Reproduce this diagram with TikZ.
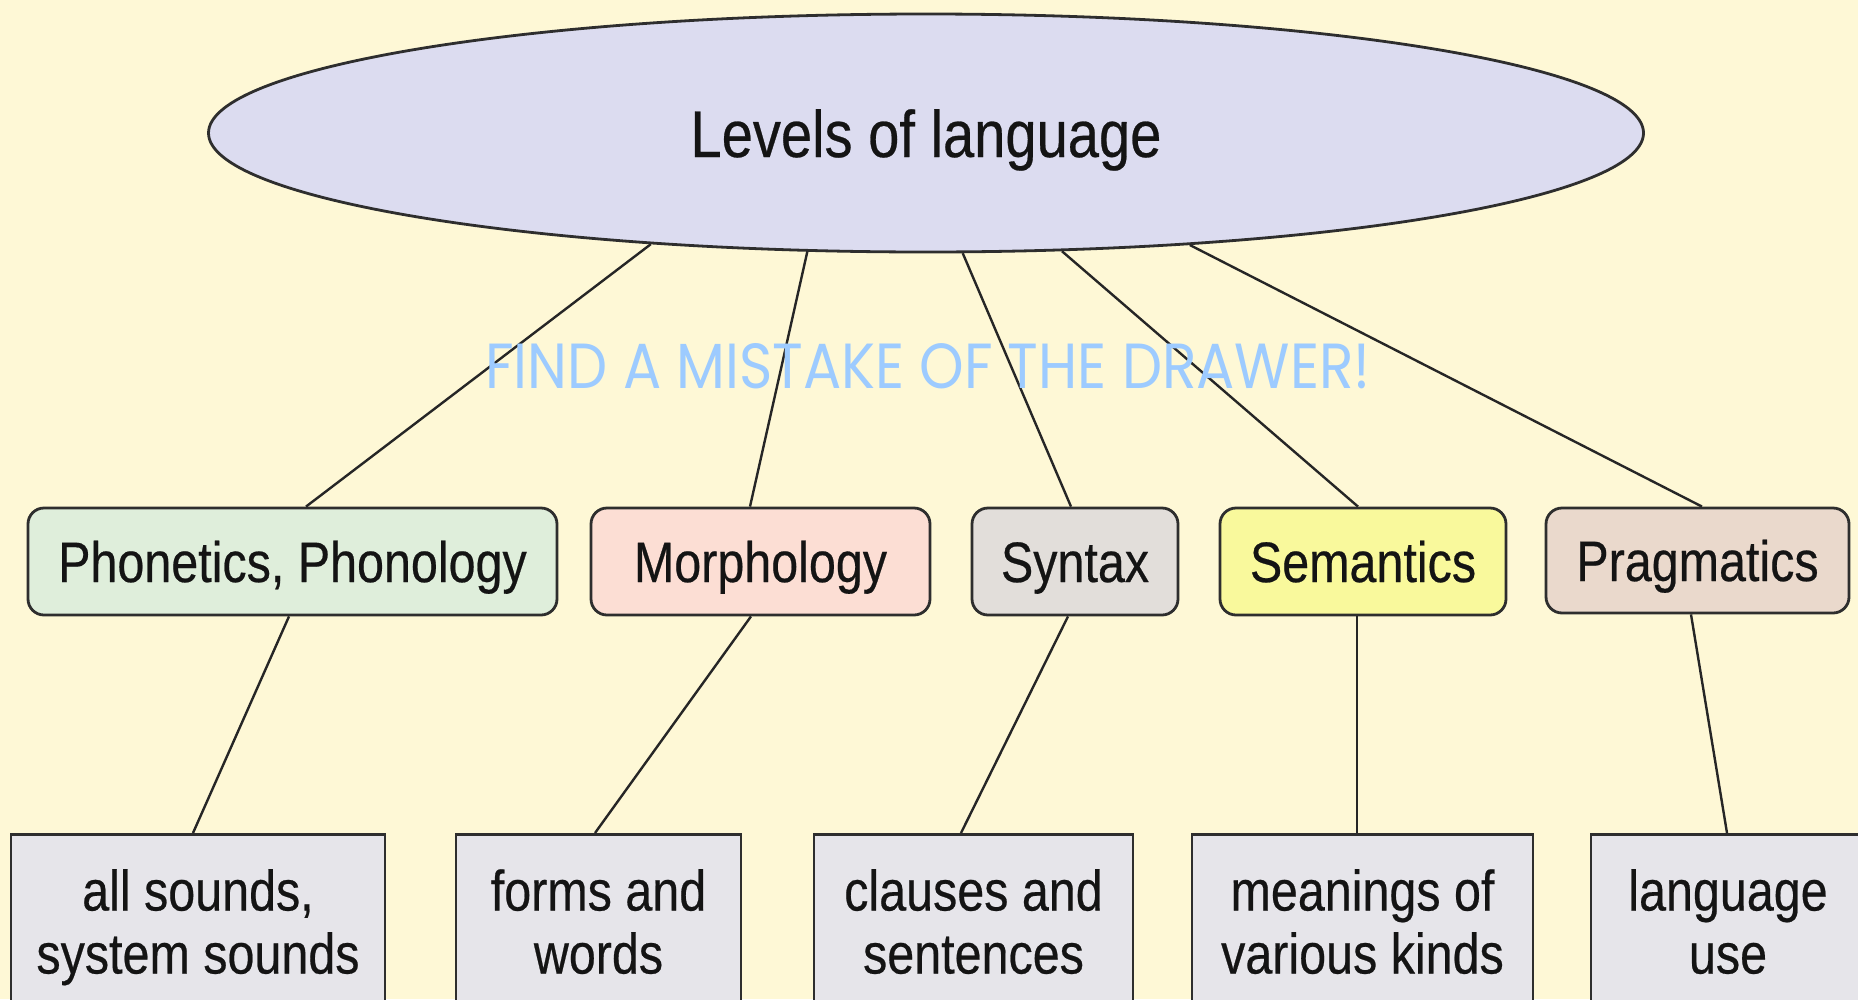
\documentclass[tikz,border=0pt]{standalone}
\usepackage{fontspec}
\setmainfont{Liberation Sans}[FakeStretch=0.85,FakeBold=0.4]
\newfontfamily\bluefont{Poppins}
\usetikzlibrary{shapes.geometric}
\definecolor{bg}{HTML}{FEF8D6}
\definecolor{ellfill}{HTML}{DCDCF0}
\definecolor{edge}{HTML}{2E2E2E}
\definecolor{ink}{HTML}{141414}
\definecolor{linec}{HTML}{262626}
\definecolor{phfill}{HTML}{DFEEDB}
\definecolor{mofill}{HTML}{FCDED4}
\definecolor{syfill}{HTML}{E2DEDA}
\definecolor{sefill}{HTML}{F9F99C}
\definecolor{prfill}{HTML}{EAD9CC}
\definecolor{leaffill}{HTML}{E6E5EA}
\definecolor{blue}{HTML}{9DCBFF}
\begin{document}
\begin{tikzpicture}[x=1pt,y=-1pt,
  levelbox/.style={draw=edge, line width=2.8pt, rounded corners=16pt, minimum height=107pt,
    inner sep=0pt, text height=41pt, text depth=0pt, text=ink,
    font=\fontsize{57}{63}\selectfont},
  leafbox/.style={draw=edge, line width=2.8pt, fill=leaffill, anchor=north, minimum height=190pt,
    inner sep=0pt, align=center, text=ink, font=\fontsize{57}{63}\selectfont},
  link/.style={draw=linec, line width=2.4pt}]
\useasboundingbox (0,0) rectangle (1858,999);
\clip (0,0) rectangle (1858,999);
\fill[bg] (0,0) rectangle (1858,999);

% top ellipse
\node[ellipse, draw=edge, line width=2.8pt, fill=ellfill, minimum width=1435pt, minimum height=238pt,
  inner sep=0pt, text height=48pt, text depth=0pt, text=ink, font=\fontsize{66}{72}\selectfont]
  (ell) at (926,133) {Levels of language};

% middle level
\node[levelbox, fill=phfill, minimum width=529pt] (ph) at (292.5,561.5) {Phonetics, Phonology};
\node[levelbox, fill=mofill, minimum width=339pt] (mo) at (760.5,561.5) {Morphology};
\node[levelbox, fill=syfill, minimum width=206pt] (sy) at (1075,561.5) {Syntax};
\node[levelbox, fill=sefill, minimum width=286pt] (se) at (1363,561.5) {Semantics};
\node[levelbox, fill=prfill, minimum width=303pt, minimum height=105pt] (pr) at (1697.5,560.5) {Pragmatics};

% bottom level
\node[leafbox, minimum width=374pt] (b1) at (198,833) {all sounds,\strut\\system sounds\strut};
\node[leafbox, minimum width=285pt] (b2) at (598.5,833) {forms and\strut\\words\strut};
\node[leafbox, minimum width=319pt] (b3) at (973.5,833) {clauses and\strut\\sentences\strut};
\node[leafbox, minimum width=341pt] (b4) at (1362.5,833) {meanings of\strut\\various kinds\strut};
\node[leafbox, minimum width=274pt] (b5) at (1728,833) {language\strut\\use\strut};

% connectors
\draw[link] (ell.202) -- ([xshift=13.5pt]ph.north);
\draw[link] (ell.225.9) -- ([xshift=-10.5pt]mo.north);
\draw[link] (ell.287.3) -- ([xshift=-4pt]sy.north);
\draw[link] (ell.319.8) -- ([xshift=-5pt]se.north);
\draw[link] (ell.337.2) -- ([xshift=4.5pt]pr.north);

\draw[link] ([xshift=-3.5pt]ph.south) -- ([xshift=-5pt]b1.north);
\draw[link] ([xshift=-9.5pt]mo.south) -- ([xshift=-3.5pt]b2.north);
\draw[link] ([xshift=-7pt]sy.south) -- ([xshift=-12.5pt]b3.north);
\draw[link] ([xshift=-6pt]se.south) -- ([xshift=-5.5pt]b4.north);
\draw[link] ([xshift=-6.5pt]pr.south) -- ([xshift=-1pt]b5.north);

% overlay caption
\node[inner sep=0pt, text=blue] (note) at (928,366)
  {\resizebox{885pt}{45pt}{\bluefont FIND A MISTAKE OF THE DRAWER!}};
\end{tikzpicture}
\end{document}
